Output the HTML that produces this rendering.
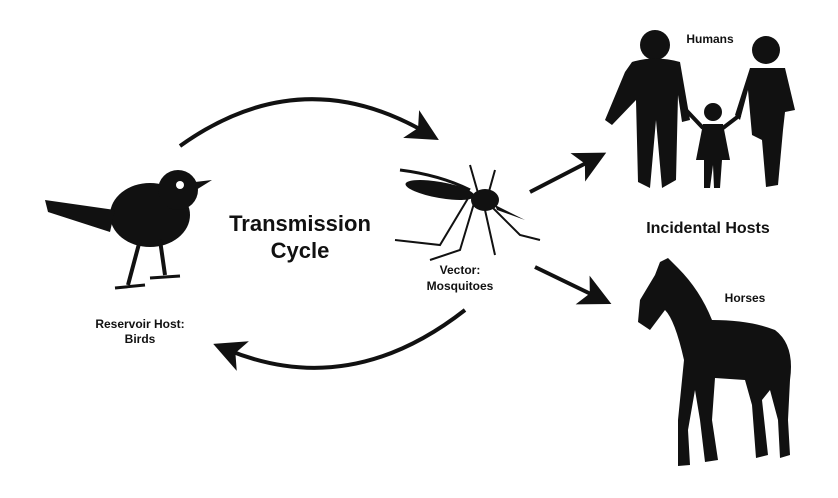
<!DOCTYPE html>
<html><head><meta charset="utf-8"><style>
html,body{margin:0;padding:0;background:#fff;}
svg{display:block;}
text{font-family:"Liberation Sans",sans-serif;font-weight:bold;fill:#111;}
</style></head><body>
<svg width="838" height="498" viewBox="0 0 838 498" xmlns="http://www.w3.org/2000/svg">
<rect width="838" height="498" fill="#fff"/>
<defs>
<marker id="ah" markerWidth="8" markerHeight="8" refX="4" refY="4" orient="auto" markerUnits="strokeWidth">
<path d="M0,0 L8,4 L0,8 L2,4 Z" fill="#111"/></marker>
</defs>
<path d="M180,146 Q300,60 425,132" fill="none" stroke="#111" stroke-width="4" marker-end="url(#ah)"/>
<path d="M465,310 Q350,400 228,350" fill="none" stroke="#111" stroke-width="4" marker-end="url(#ah)"/>
<line x1="530" y1="192" x2="592" y2="160" stroke="#111" stroke-width="4" marker-end="url(#ah)"/>
<line x1="535" y1="267" x2="597" y2="297" stroke="#111" stroke-width="4" marker-end="url(#ah)"/>
<g fill="#111">
<ellipse cx="150" cy="215" rx="40" ry="32"/>
<circle cx="178" cy="190" r="20"/>
<path d="M195,182 L212,180 L196,190 Z"/>
<path d="M115,210 L45,200 L48,212 L110,232 Z"/>
<path d="M140,240 L128,285 M160,240 L165,275" stroke="#111" stroke-width="4"/>
<path d="M115,288 L145,285 M150,278 L180,276" stroke="#111" stroke-width="3"/>
</g>
<circle cx="180" cy="185" r="4" fill="#fff"/>
<g stroke="#111" stroke-width="2" fill="none">
<path d="M470,195 L440,245 L395,240 M475,200 L460,250 L430,260 M485,210 L495,255 M490,205 L520,235 L540,240 M480,200 L470,165 M488,195 L495,170"/>
<path d="M400,170 Q440,175 470,190" stroke-width="3"/>
</g>
<g fill="#111">
<ellipse cx="440" cy="190" rx="35" ry="8" transform="rotate(10 440 190)"/>
<ellipse cx="485" cy="200" rx="14" ry="11"/>
<path d="M495,205 L525,220 L497,210 Z"/>
</g>
<g fill="#111">
<circle cx="655" cy="45" r="15"/>
<path d="M632,62 Q655,55 680,62 L690,120 L682,122 L678,95 L676,180 L662,188 L656,120 L650,188 L638,182 L636,100 L612,125 L605,120 L625,72 Z"/>
<circle cx="766" cy="50" r="14"/>
<path d="M750,68 L785,68 L795,110 L785,112 L783,130 L778,185 L766,187 L762,140 L752,135 L748,90 L740,120 L735,115 Z"/>
<circle cx="713" cy="112" r="9"/>
<path d="M703,124 L723,124 L730,160 L722,160 L720,188 L714,188 L713,165 L710,188 L704,188 L704,160 L696,160 Z"/>
<path d="M686,110 L703,128 M723,128 L740,115" stroke="#111" stroke-width="4"/>
</g>
<g fill="#111">
<path d="M660,262 L668,258 L678,268 Q700,290 712,320 Q750,320 775,330 Q795,345 790,380 L788,420 L790,455 L780,458 L778,420 L770,390 L762,400 L768,455 L756,458 L752,405 L745,380 L715,378 L712,420 L718,460 L705,462 L700,420 L695,390 L688,430 L690,465 L678,466 L678,420 L684,360 Q675,320 665,310 L650,330 L638,322 L640,300 L655,275 Z"/>
</g>
<text x="300" y="231" font-size="22" text-anchor="middle">Transmission</text>
<text x="300" y="258" font-size="22" text-anchor="middle">Cycle</text>
<text x="460" y="274" font-size="12" text-anchor="middle">Vector:</text>
<text x="460" y="290" font-size="12" text-anchor="middle">Mosquitoes</text>
<text x="140" y="328" font-size="12" text-anchor="middle">Reservoir Host:</text>
<text x="140" y="343" font-size="12" text-anchor="middle">Birds</text>
<text x="710" y="43" font-size="12" text-anchor="middle">Humans</text>
<text x="708" y="233" font-size="16" text-anchor="middle">Incidental Hosts</text>
<text x="745" y="302" font-size="12" text-anchor="middle">Horses</text>
</svg>
</body></html>
